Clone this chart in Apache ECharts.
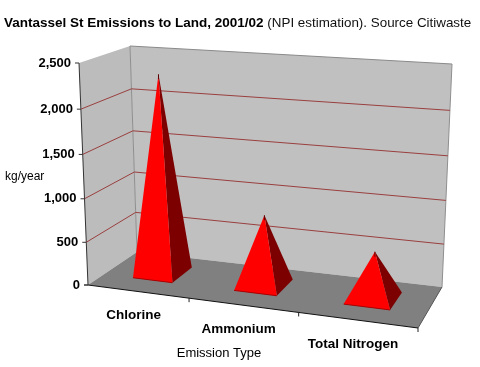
<!DOCTYPE html>
<html><head><meta charset="utf-8">
<style>html,body{margin:0;padding:0;background:#fff}#c{width:480px;height:367px}</style>
<script src="https://cdn.jsdelivr.net/npm/echarts@6/dist/echarts.min.js"></script>
</head><body><div id="c"></div>
<script>
const categories = ['Chlorine', 'Ammonium', 'Total Nitrogen'];
const emissions = [2300, 810, 530];
const yTicks = [0, 500, 1000, 1500, 2000, 2500];
const titleBold = 'Vantassel St Emissions to Land, 2001/02';
const titleRest = ' (NPI estimation). Source Citiwaste';
const yName = 'kg/year';
const xName = 'Emission Type';

const FONT = '"Liberation Sans", Arial, sans-serif';
const G = {left: 88, top: 63, w: 330, h: 222};
const YMAX = 2500;
const K = 0.05; // slight vertical perspective
// Oblique projection of the chart box: floor quad + vertical vectors
const Q = [[88,285],[418,328],[442,287],[137,252]];
const UP = {fl:[-9,-222], fr:[14,-240], br:[10,-223], bl:[-7,-206]};
const H = (function(){
  const [p0,p1,p2,p3]=Q;
  const dx1=p1[0]-p2[0],dx2=p3[0]-p2[0],dy1=p1[1]-p2[1],dy2=p3[1]-p2[1];
  const sx=p0[0]-p1[0]+p2[0]-p3[0],sy=p0[1]-p1[1]+p2[1]-p3[1];
  const den=dx1*dy2-dx2*dy1;
  const g=(sx*dy2-dx2*sy)/den,h=(dx1*sy-sx*dy1)/den;
  return {a:p1[0]-p0[0]+g*p1[0],b:p3[0]-p0[0]+h*p3[0],c:p0[0],
          d:p1[1]-p0[1]+g*p1[1],e:p3[1]-p0[1]+h*p3[1],f:p0[1],g,h};
})();
function project(u,v,t0){
  const t=t0/(1+K*(1-t0));
  const w=H.g*u+H.h*v+1;
  const x=(H.a*u+H.b*v+H.c)/w, y=(H.d*u+H.e*v+H.f)/w;
  const ux=(1-u)*(1-v)*UP.fl[0]+u*(1-v)*UP.fr[0]+u*v*UP.br[0]+(1-u)*v*UP.bl[0];
  const uy=(1-u)*(1-v)*UP.fl[1]+u*(1-v)*UP.fr[1]+u*v*UP.br[1]+(1-u)*v*UP.bl[1];
  return [x+ux*t,y+uy*t];
}
const U = px => (px-G.left)/G.w;
const T = py => (G.top+G.h-py)/G.h;
const poly = (pts,fill,z,stroke) => ({type:'polygon',z2:z,shape:{points:pts},style:{fill,stroke:stroke||null,lineWidth:stroke?1:0}});
const line = (pts,stroke,w,z) => ({type:'polyline',z2:z,shape:{points:pts},style:{fill:null,stroke,lineWidth:w||1}});
const text = (s,x,y,font,align) => ({type:'text',z2:20,style:{text:s,x,y,font,fill:'#000',align:align||'center',verticalAlign:'middle'}});

function renderBox(params,api){
  const top=T(api.coord([0,YMAX])[1]);
  const a=project(0,0,0),b=project(0,0,top),c=project(0,1,top),d=project(0,1,0);
  const e=project(1,1,top),f=project(1,1,0),g=project(1,0,0);
  const ticks=[];
  for(let i=0;i<3;i++){const q=project((i+1)/3,0,0);ticks.push(line([q,[q[0],q[1]+4]],'#222',1,6));}
  return {type:'group',children:[
    poly([a,b,c,d],'#bcbcbc',1),
    poly([d,c,e,f],'#c0c0c0',1),
    poly([a,d,f,g],'#808080',1),
    line([c,e],'#8a8a8a',1,2),
    line([c,d],'#8f8f8f',1,2),
    line([e,f],'#8f8f8f',1,2),
    line([f,g],'#555',1,3),
    line([b,a],'#333',1,5),
    line([a,g],'#111',1,5),
    line([[a[0]-4,a[1]],a],'#333',1,5),
    ...ticks
  ]};
}
function renderGrid(params,api){
  const val=api.value(1);
  const t=T(api.coord([0,val])[1]);
  const tickPt=project(0,0,t);
  const kids=[line([[tickPt[0]-4,tickPt[1]],tickPt],'#333',1,5)];
  if(val>0&&val<YMAX) kids.push(line([project(0,0,t),project(0,1,t),project(1,1,t)],'#9a3f3f',1,3));
  return {type:'group',children:kids};
}
function renderPyramid(params,api){
  const idx=api.value(0), pt=api.coord([idx,api.value(1)]);
  const band=api.size([1,0])[0]/G.w;
  const u=U(pt[0]), t=T(pt[1]);
  const du=band*0.2, v0=0.53, dv=0.22;
  const fl=project(u-du,v0-dv,0),fr=project(u+du,v0-dv,0),br=project(u+du,v0+dv,0);
  const apex=project(u,v0,t);
  return {type:'group',children:[
    poly([fr,br,apex],'#7c0000',10),
    poly([fl,fr,apex],'#ff0000',11),
    line([fl,fr],'#a80000',1,12),
    line([[apex[0],apex[1]],[apex[0],apex[1]+5]],'#5a0000',1,12)
  ]};
}
function renderYLabel(params,api){
  const val=api.value(1);
  const p=project(0,0,T(api.coord([0,val])[1]));
  return text(val.toLocaleString('en-US'),p[0]-8,p[1],'bold 13px '+FONT,'right');
}
function renderXLabel(params,api){
  const idx=api.value(0), pt=api.coord([idx,0]);
  const p=project(U(pt[0]),0,0);
  return text(categories[idx],p[0]-4,p[1]+24,'bold 13.5px '+FONT);
}

const chart=echarts.init(document.getElementById('c'),null,{renderer:'canvas'});
chart.setOption({
  animation:false,
  backgroundColor:'#ffffff',
  title:{left:4,top:16,padding:0,
    text:'{b|'+titleBold+'}{n|'+titleRest+'}',
    textStyle:{rich:{
      b:{fontFamily:FONT,fontSize:13.5,fontWeight:'bold',color:'#000'},
      n:{fontFamily:FONT,fontSize:13.4,fontWeight:'normal',color:'#111'}}}},
  graphic:[
    {type:'text',style:{text:yName,x:5,y:177,font:'12px '+FONT,fill:'#000',verticalAlign:'middle'}},
    {type:'text',style:{text:xName,x:219,y:353,font:'13px '+FONT,fill:'#000',align:'center',verticalAlign:'middle'}}
  ],
  grid:{left:G.left,top:G.top,width:G.w,height:G.h},
  xAxis:{type:'category',data:categories,show:false},
  yAxis:{type:'value',min:0,max:YMAX,interval:500,show:false},
  series:[
    {type:'custom',clip:false,silent:true,z:1,renderItem:renderBox,data:[[0,0]]},
    {type:'custom',clip:false,silent:true,z:2,renderItem:renderGrid,data:yTicks.map(v=>[0,v])},
    {type:'custom',clip:false,z:3,name:'Emissions',renderItem:renderPyramid,data:emissions.map((v,i)=>[i,v])},
    {type:'custom',clip:false,silent:true,z:4,renderItem:renderYLabel,data:yTicks.map(v=>[0,v])},
    {type:'custom',clip:false,silent:true,z:4,renderItem:renderXLabel,data:categories.map((c,i)=>[i,0])}
  ]
});
</script></body></html>
